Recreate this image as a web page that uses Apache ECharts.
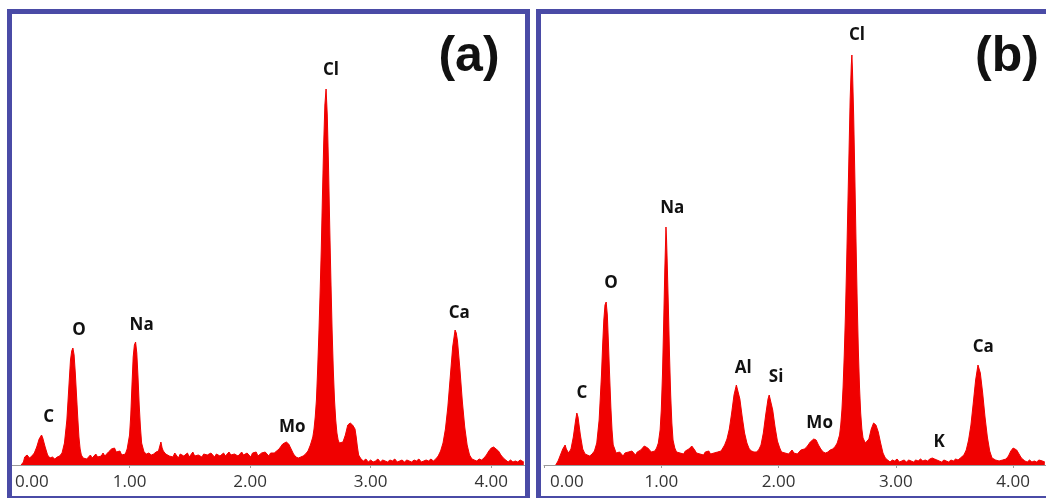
<!DOCTYPE html>
<html>
<head>
<meta charset="utf-8">
<script src="https://cdn.jsdelivr.net/npm/echarts@6/dist/echarts.min.js"></script>
<style>
html,body{margin:0;padding:0;background:#fff;}
#chart{width:1046px;height:498px;}
</style>
</head>
<body>
<div id="chart"></div>
<script>
// Energy (keV) vs. counts (relative units)
const spectrumA = [
[0.10,0],[0.12,3],[0.13,8],[0.15,10],[0.17,7],[0.19,9],[0.21,12],[0.23,18],[0.25,26],[0.27,30],[0.28,27],[0.30,18],[0.32,10],[0.34,7],[0.36,8],[0.38,6],[0.40,8],[0.42,9],[0.44,12],[0.46,22],[0.48,45],[0.50,85],[0.51,105],[0.52,114],[0.53,117],[0.54,110],[0.55,92],[0.56,70],[0.57,48],[0.58,28],[0.59,16],
[0.600,10],[0.615,7],[0.630,9],[0.645,6],[0.660,8],[0.675,10],[0.690,7],[0.705,9],[0.720,11],[0.735,8],[0.750,10],[0.765,9],[0.780,12],[0.795,9],[0.810,11],[0.825,13],[0.840,12],[0.850,16],[0.860,14],[0.875,17],[0.890,13],[0.905,11],[0.920,14],[0.935,10],[0.950,12],[0.965,11],[0.980,16],
[1.00,30],[1.01,50],[1.02,80],[1.03,108],[1.04,120],[1.05,123],[1.06,112],[1.07,88],[1.08,60],[1.09,38],[1.10,22],[1.12,13],[1.14,11],[1.16,12],[1.18,10],[1.20,11],[1.22,13],[1.24,14],[1.26,23],[1.27,17],[1.28,14],
[1.300,11],[1.315,13],[1.330,9],[1.345,11],[1.360,8],[1.375,12],[1.390,10],[1.405,7],[1.420,11],[1.435,13],[1.450,9],[1.465,11],[1.480,12],[1.495,8],[1.510,10],[1.525,13],[1.540,9],[1.555,11],[1.570,10],[1.585,12],[1.600,8],[1.615,11],[1.630,13],[1.645,10],[1.660,9],[1.675,12],[1.690,10],[1.705,8],[1.720,11],[1.735,13],[1.750,9],[1.765,10],[1.780,12],[1.795,9],[1.810,11],[1.825,13],[1.840,10],[1.855,8],[1.870,11],[1.885,12],[1.900,9],[1.915,11],[1.930,13],[1.945,10],[1.960,9],[1.975,12],[1.990,11],[2.005,8],[2.020,12],[2.035,10],[2.050,13],[2.065,9],[2.080,11],[2.095,12],[2.110,10],[2.125,13],[2.140,11],[2.155,9],[2.170,12],[2.185,14],[2.200,12],[2.215,14],
[2.24,16],[2.27,21],[2.30,23],[2.32,21],[2.34,16],[2.36,11],[2.38,8],[2.40,7],[2.42,8],[2.44,9],[2.46,11],[2.48,14],
[2.50,20],[2.52,28],[2.53,36],[2.54,48],[2.55,65],[2.56,95],[2.57,130],[2.58,170],[2.59,215],[2.60,270],[2.61,320],[2.62,360],[2.63,376],[2.64,350],[2.65,300],[2.66,240],[2.67,185],[2.68,135],[2.69,95],[2.70,65],[2.71,45],[2.72,32],[2.73,25],[2.74,22],[2.75,21],[2.77,23],
[2.79,30],[2.81,40],[2.83,42],[2.85,40],[2.87,36],[2.88,28],[2.89,18],[2.90,10],[2.92,6],
[2.94,4],[2.96,6],[2.98,3],[3.00,5],[3.02,3],[3.04,4],[3.06,6],[3.08,3],[3.10,5],[3.12,4],[3.14,3],[3.16,5],[3.18,4],[3.20,6],[3.22,3],[3.24,4],[3.26,5],[3.28,3],[3.30,5],[3.32,4],[3.34,3],[3.36,5],[3.38,4],[3.40,6],[3.42,3],[3.44,4],[3.46,5],[3.48,4],[3.50,6],[3.52,4],[3.54,6],
[3.56,9],[3.58,14],[3.60,22],[3.62,36],[3.64,58],[3.66,88],[3.68,118],[3.70,135],[3.71,132],[3.72,124],[3.74,96],[3.76,64],[3.78,38],[3.80,20],[3.82,10],[3.84,6],
[3.86,5],[3.88,4],[3.90,6],[3.92,5],[3.94,7],[3.96,10],[3.98,14],[4.00,17],[4.02,18],[4.04,16],[4.06,14],[4.08,10],[4.10,7],[4.12,5],[4.14,3],[4.16,5],[4.18,3],[4.20,4],[4.22,3],[4.24,5],[4.27,3]
];
const spectrumB = [
[0.10,0],[0.12,4],[0.14,10],[0.16,16],[0.18,20],[0.19,16],[0.21,12],[0.23,16],[0.25,28],[0.27,45],[0.28,52],[0.29,48],[0.31,30],[0.33,16],[0.35,11],[0.37,10],[0.39,9],[0.41,11],[0.43,14],[0.45,22],[0.47,45],[0.49,90],[0.50,120],[0.51,145],[0.52,160],[0.53,163],[0.54,150],[0.55,120],[0.56,88],[0.57,58],[0.58,35],[0.59,20],
[0.60,17],[0.615,12],[0.63,10],[0.645,13],[0.66,11],[0.675,9],[0.69,12],[0.705,10],[0.72,13],[0.735,11],[0.75,14],[0.765,12],[0.78,10],[0.795,13],[0.81,12],[0.825,15],[0.84,17],[0.855,19],[0.87,20],[0.885,17],[0.90,15],[0.915,13],[0.93,15],[0.945,14],[0.96,17],[0.975,22],[0.99,35],
[1.00,55],[1.01,90],[1.02,140],[1.03,195],[1.04,238],[1.045,225],[1.05,205],[1.06,160],[1.07,110],[1.08,70],[1.09,42],
[1.10,25],[1.115,17],[1.13,13],[1.145,15],[1.16,12],[1.175,14],[1.19,11],[1.205,14],[1.22,13],[1.235,16],[1.25,18],[1.26,19],[1.27,17],[1.285,15],[1.30,12],[1.315,14],[1.33,11],[1.345,13],[1.36,10],[1.375,13],[1.39,12],[1.405,14],[1.42,11],[1.435,13],[1.45,12],[1.465,14],[1.48,13],[1.495,15],[1.51,14],[1.52,16],
[1.54,20],[1.56,26],[1.58,36],[1.60,52],[1.62,70],[1.64,80],[1.65,78],[1.67,66],[1.69,48],[1.71,32],[1.73,22],[1.75,16],[1.77,14],[1.79,13],[1.81,13],[1.83,15],[1.85,20],[1.87,32],[1.89,50],[1.91,66],[1.92,70],[1.93,68],[1.95,55],[1.97,38],[1.99,24],
[2.01,17],[2.025,13],[2.04,15],[2.055,12],[2.07,14],[2.085,11],[2.10,13],[2.115,15],[2.13,12],[2.145,14],[2.16,11],[2.175,13],[2.19,15],[2.205,14],[2.22,16],
[2.24,18],[2.27,23],[2.30,26],[2.32,25],[2.34,20],[2.36,16],[2.38,13],[2.40,12],[2.42,13],[2.44,15],[2.46,16],[2.48,18],[2.50,22],[2.52,30],[2.53,40],[2.54,55],[2.55,78],[2.56,110],[2.57,150],[2.58,200],[2.59,255],[2.60,310],[2.61,365],[2.62,400],[2.625,410],[2.63,395],[2.64,350],[2.65,290],[2.66,225],[2.67,165],[2.68,115],[2.69,78],[2.70,52],[2.71,36],[2.72,27],[2.74,22],[2.755,20],[2.77,26],[2.79,36],[2.81,42],[2.83,40],[2.85,33],[2.87,22],[2.89,12],[2.91,7],
[2.93,5],[2.95,3],[2.97,5],[2.99,4],[3.01,6],[3.03,3],[3.05,4],[3.07,5],[3.09,3],[3.11,5],[3.13,4],[3.15,3],[3.17,5],[3.19,4],[3.21,6],[3.23,4],[3.25,5],[3.27,4],[3.29,6],[3.31,7],[3.33,6],[3.35,5],[3.37,4],[3.39,3],[3.41,5],[3.43,4],[3.45,3],[3.47,5],[3.49,4],[3.51,6],[3.53,5],[3.55,7],
[3.58,10],[3.60,15],[3.62,25],[3.64,40],[3.66,62],[3.68,85],[3.70,100],[3.71,98],[3.72,92],[3.74,72],[3.76,48],[3.78,28],[3.80,14],[3.82,7],[3.85,5],[3.88,4],[3.91,5],[3.94,6],[3.96,9],[3.98,14],
[4.00,17],[4.01,18],[4.03,15],[4.05,11],[4.07,7],[4.10,4],[4.12,3],[4.14,5],[4.16,3],[4.18,4],[4.20,3],[4.22,5],[4.25,4],[4.27,3]
];
// Element labels: [name, energy of label centre, height of label centre]
const labelsA = [['C',0.33,48],['O',0.58,135],['Na',1.10,140],['Mo',2.35,38],['Cl',2.67,395],['Ca',3.735,152]];
const labelsB = [['C',0.324,72],['O',0.571,182],['Na',1.094,257],['Al',1.698,97],['Si',1.979,88],['Mo',2.35,42],['Cl',2.668,430],['K',3.369,23],['Ca',3.745,118]];
const panelTitles = ['(a)','(b)'];
const xTicks = [0,1,2,3,4];

const RED = '#f00000';
const FRAME = '#4a4ba6';
const chart = echarts.init(document.getElementById('chart'));

function xAxisCfg(idx){
  return {
    type:'value', gridIndex:idx, min:0, max:4.28, interval:1,
    axisLine:{show:true,onZero:false,lineStyle:{color:'#9a9a9a',width:1}},
    axisTick:{show:true,length:3,lineStyle:{color:'#9a9a9a'}},
    splitLine:{show:false},
    axisLabel:{
      color:'#333', fontSize:17, fontFamily:'Open Sans, sans-serif', margin:9,
      showMaxLabel:false, alignMinLabel:'left',
      formatter:function(v){
        if (xTicks.indexOf(v) < 0) return '';
        return v === 0 ? '{m|' + v.toFixed(2) + '}' : v.toFixed(2);
      },
      rich:{m:{padding:[0,0,0,6], fontSize:17, color:'#333', fontFamily:'Open Sans, sans-serif'}}
    }
  };
}
function yAxisCfg(idx){
  return {type:'value', gridIndex:idx, min:0, max:450, show:false};
}
function spectrumSeries(idx, data){
  return {
    type:'line', xAxisIndex:idx, yAxisIndex:idx, data:data, symbol:'none',
    smooth:false, silent:true, z:2,
    lineStyle:{color:RED,width:1}, areaStyle:{color:RED,opacity:1}
  };
}
function labelSeries(idx, labels){
  return {
    type:'scatter', xAxisIndex:idx, yAxisIndex:idx, symbolSize:0, silent:true, z:5,
    itemStyle:{opacity:1},
    data: labels.map(l => ({name:l[0], value:[l[1], l[2]]})),
    label:{show:true, position:'inside', formatter:'{b}', color:'#111',
      textBorderWidth:0, fontSize:17, fontWeight:'bold', fontFamily:'Open Sans, sans-serif'}
  };
}

chart.setOption({
  backgroundColor:'#ffffff',
  animation:false,
  grid:[
    {left:9, top:15, width:516, height:450},
    {left:544, top:15, width:519, height:450}
  ],
  xAxis:[xAxisCfg(0), xAxisCfg(1)],
  yAxis:[yAxisCfg(0), yAxisCfg(1)],
  series:[
    spectrumSeries(0, spectrumA), labelSeries(0, labelsA),
    spectrumSeries(1, spectrumB), labelSeries(1, labelsB)
  ],
  graphic:[
    {type:'rect', z:100, silent:true, shape:{x:9.5,y:11.5,width:518,height:487},
     style:{fill:'none', stroke:FRAME, lineWidth:5}},
    {type:'rect', z:100, silent:true, shape:{x:538.5,y:11.5,width:530,height:487},
     style:{fill:'none', stroke:FRAME, lineWidth:5}},
    {type:'text', z:100, silent:true, x:469, y:57,
     style:{text:panelTitles[0], font:'bold 50px "Liberation Sans", Arial, sans-serif', fill:'#111',
       textAlign:'center', textVerticalAlign:'middle'}},
    {type:'text', z:100, silent:true, x:1007, y:57,
     style:{text:panelTitles[1], font:'bold 50px "Liberation Sans", Arial, sans-serif', fill:'#111',
       textAlign:'center', textVerticalAlign:'middle'}}
  ]
});
</script>
</body>
</html>
